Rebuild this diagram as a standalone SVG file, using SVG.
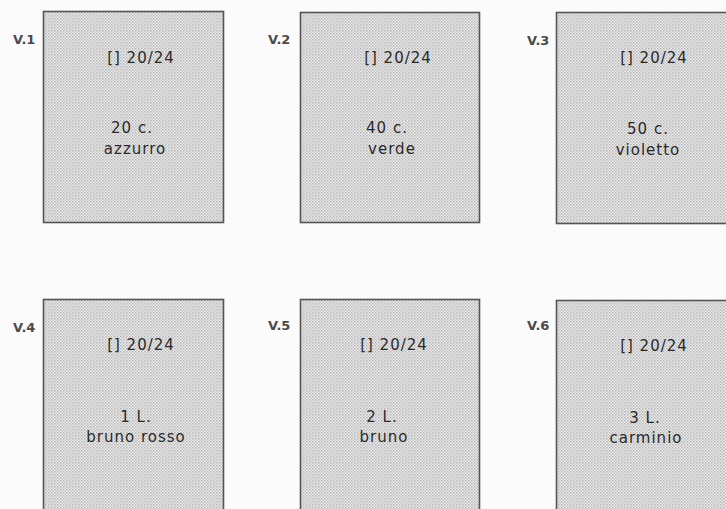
<svg xmlns="http://www.w3.org/2000/svg" width="726" height="509" viewBox="0 0 726 509">
<defs>
<pattern id="dots" width="3" height="3" patternUnits="userSpaceOnUse">
<rect width="3" height="3" fill="#ebebeb"/>
<rect x="0" y="0" width="1.5" height="1.5" fill="#b4b4b4"/>
<rect x="1.5" y="1.5" width="1.5" height="1.5" fill="#c6c6c6"/>
</pattern>
<style>
.box{fill:url(#dots);stroke:#555;stroke-width:1.6}
.lab{font-family:"DejaVu Sans",sans-serif;font-size:13px;font-weight:bold;fill:#4a4a4a}
.t{font-family:"DejaVu Sans",sans-serif;font-size:15px;letter-spacing:1px;fill:#2a2a2a;text-anchor:middle}
</style>
</defs>
<rect width="726" height="509" fill="#fbfbfb"/>
<g id="v1">
<rect class="box" x="43.5" y="11.5" width="180" height="211"/>
<text class="lab" x="13" y="44">V.1</text>
<text class="t" x="141" y="63">[] 20/24</text>
<text class="t" x="132" y="133">20 c.</text>
<text class="t" x="135" y="154">azzurro</text>
</g>
<g id="v2">
<rect class="box" x="300.5" y="12.5" width="179" height="210"/>
<text class="lab" x="268" y="44">V.2</text>
<text class="t" x="398" y="63">[] 20/24</text>
<text class="t" x="387" y="133">40 c.</text>
<text class="t" x="392" y="154">verde</text>
</g>
<g id="v3">
<rect class="box" x="556.5" y="12.5" width="175" height="211"/>
<text class="lab" x="527" y="45">V.3</text>
<text class="t" x="654" y="63">[] 20/24</text>
<text class="t" x="648" y="134">50 c.</text>
<text class="t" x="648" y="155">violetto</text>
</g>
<g id="v4">
<rect class="box" x="43.5" y="299.5" width="180" height="215"/>
<text class="lab" x="13" y="332">V.4</text>
<text class="t" x="141" y="350">[] 20/24</text>
<text class="t" x="136" y="422">1 L.</text>
<text class="t" x="136" y="442">bruno rosso</text>
</g>
<g id="v5">
<rect class="box" x="300.5" y="299.5" width="179" height="215"/>
<text class="lab" x="268" y="330">V.5</text>
<text class="t" x="394" y="350">[] 20/24</text>
<text class="t" x="382" y="422">2 L.</text>
<text class="t" x="384" y="442">bruno</text>
</g>
<g id="v6">
<rect class="box" x="556.5" y="300.5" width="175" height="215"/>
<text class="lab" x="527" y="330">V.6</text>
<text class="t" x="654" y="351">[] 20/24</text>
<text class="t" x="645" y="423">3 L.</text>
<text class="t" x="646" y="443">carminio</text>
</g>
<g id="connectors"/>
</svg>
